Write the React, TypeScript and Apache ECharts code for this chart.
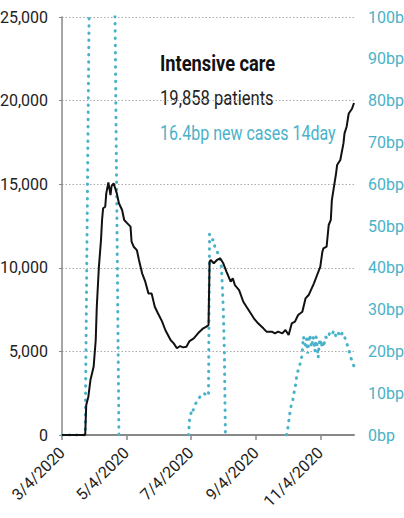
import React, { useEffect, useRef } from "react";
import * as echarts from "echarts";

// x values are days since 3/4/2020
const tickDays = [0, 61, 122, 184, 245];
const tickLabels = ["3/4/2020", "5/4/2020", "7/4/2020", "9/4/2020", "11/4/2020"];

const icuDays = [0, 22, 23, 25, 27, 30, 32, 33, 35, 37, 38, 39, 41, 42, 44, 46, 47, 49, 50, 52, 54, 57, 59, 62, 65, 66, 68, 71, 73, 76, 79, 82, 85, 88, 91, 95, 98, 103, 106, 109, 112, 115, 118, 121, 125, 129, 134, 137, 139, 140, 141, 144, 147, 150, 153, 156, 160, 162, 164, 168, 172, 175, 179, 182, 186, 191, 194, 199, 202, 205, 209, 212, 215, 218, 221, 224, 228, 231, 234, 239, 242, 245, 247, 248, 251, 253, 255, 256, 258, 260, 261, 264, 267, 268, 270, 272, 275, 277];
const icuPatients = [0, 0, 1800, 2290, 3290, 4080, 5680, 7670, 10060, 11660, 12860, 13560, 13650, 14450, 15110, 14350, 14890, 15050, 14850, 14450, 13860, 13460, 12860, 12660, 12460, 11560, 11260, 11060, 10470, 9670, 9170, 8470, 8470, 7670, 7280, 6780, 6280, 5680, 5480, 5190, 5320, 5240, 5280, 5620, 5780, 6080, 6380, 6480, 6580, 10360, 10470, 10270, 10470, 10570, 10270, 9770, 9170, 9370, 8970, 8670, 7970, 7670, 7280, 6980, 6680, 6380, 6180, 6180, 6080, 6180, 6080, 6280, 5980, 6680, 6780, 7180, 7370, 8170, 8370, 9070, 9570, 10060, 10960, 11160, 11260, 12560, 12860, 14050, 14850, 15650, 16150, 16450, 17440, 18040, 18440, 19230, 19500, 19858];

// null = no data (gap in the line)
const caseDays = [0, 22, 26, 50, 54, 55, 120, 121, 123, 124, 126, 129, 132, 135, 137, 139, 140, 142, 144, 145, 147, 149, 151, 152, 153, 154, 155, 156, 213, 214, 215, 216, 217, 219, 220, 221, 222, 223, 225, 227, 228, 229, 230, 231, 232, 233, 234, 235, 236, 237, 238, 239, 240, 241, 242, 243, 244, 245, 246, 247, 248, 250, 252, 254, 256, 258, 260, 262, 264, 266, 268, 270, 272, 274, 277];
const caseBp = [0, 0, 108, 108, 0, null, 0, 3.5, 6, 5.6, 7.2, 8.4, 9.6, 10, 9.2, 10, 48, 46.7, 46.7, 45, 44, 42.7, 41, 36, 30, 20, 0, null, 0, 1.2, 3, 5, 6.6, 8.4, 10, 11, 12.8, 14.6, 16.3, 18, 20, 23.5, 22, 21.5, 23, 19.5, 22, 24, 22, 21, 23.5, 22.5, 20, 23.5, 21.5, 18.5, 22, 23, 21, 22.5, 21, 23.5, 23, 24.5, 24, 25, 23.5, 24.5, 23.5, 24.5, 23.5, 22, 20.5, 18.5, 16.4];

const TEAL = "#4ab2c8";
const FONT = "Roboto, 'Liberation Sans', sans-serif";

export default function App() {
  const ref = useRef<HTMLDivElement>(null);
  useEffect(() => {
    if (!ref.current) return;
    const chart = echarts.init(ref.current, undefined, { renderer: "svg" });
    chart.setOption({
      animation: false,
      backgroundColor: "#fff",
      textStyle: { fontFamily: FONT },
      grid: { left: 62, right: 50, top: 17, bottom: 83, containLabel: false, outerBoundsMode: "none" },
      xAxis: {
        type: "value",
        min: 0,
        max: 277,
        axisLine: { show: true, lineStyle: { color: "#888", width: 2 } },
        axisTick: { show: true, length: 5, lineStyle: { color: "#888", width: 1.5 }, customValues: tickDays },
        axisLabel: {
          customValues: tickDays,
          rotate: 45,
          margin: 15,
          color: "#222",
          fontSize: 16,
          fontFamily: FONT,
          formatter: (v: number) => {
            const i = tickDays.indexOf(Math.round(v));
            return i >= 0 ? tickLabels[i] : "";
          },
        },
        splitLine: { show: false },
      },
      yAxis: [
        {
          type: "value",
          min: 0,
          max: 25000,
          interval: 5000,
          axisLine: { show: true, lineStyle: { color: "#888", width: 1.5 } },
          axisTick: { show: true, length: 3, lineStyle: { color: "#888" } },
          axisLabel: {
            color: "#222",
            fontSize: 16,
            margin: 14,
            fontFamily: FONT,
            formatter: (v: number) => v.toLocaleString("en-US"),
          },
          splitLine: { show: true, lineStyle: { color: "#aaa", type: [1.5, 2], width: 1 } },
        },
        {
          type: "value",
          min: 0,
          max: 100,
          interval: 10,
          position: "right",
          axisLine: { show: false },
          axisTick: { show: false },
          axisLabel: { color: TEAL, fontSize: 16, margin: 14, fontFamily: FONT, formatter: "{value}bp" },
          splitLine: { show: false },
        },
      ],
      graphic: [
        {
          type: "text",
          x: 160,
          y: 63,
          scaleX: 0.83,
          style: { text: "Intensive care", fontSize: 22, fontWeight: "bold", fill: "#111", fontFamily: FONT, verticalAlign: "middle" },
        },
        {
          type: "text",
          x: 160,
          y: 97.5,
          scaleX: 0.79,
          style: { text: "19,858 patients", fontSize: 21, fill: "#222", fontFamily: FONT, verticalAlign: "middle" },
        },
        {
          type: "text",
          x: 160,
          y: 133,
          scaleX: 0.8,
          style: { text: "16.4bp new cases 14day", fontSize: 20, fill: TEAL, fontFamily: FONT, verticalAlign: "middle" },
        },
      ],
      series: [
        {
          type: "line",
          yAxisIndex: 1,
          data: caseDays.map((d, i) => [d, caseBp[i] === null ? "-" : caseBp[i]]),
          connectNulls: false,
          showSymbol: false,
          symbol: "none",
          clip: true,
          lineStyle: { color: TEAL, width: 3, type: [0.5, 6.7], cap: "round" },
          z: 2,
        },
        {
          type: "line",
          yAxisIndex: 0,
          data: icuDays.map((d, i) => [d, icuPatients[i]]),
          showSymbol: false,
          symbol: "none",
          clip: true,
          lineStyle: { color: "#111", width: 2 },
          z: 3,
        },
      ],
    });
    return () => chart.dispose();
  }, []);
  return <div ref={ref} style={{ width: 404, height: 518, position: "absolute", left: 0, top: 0 }} />;
}
